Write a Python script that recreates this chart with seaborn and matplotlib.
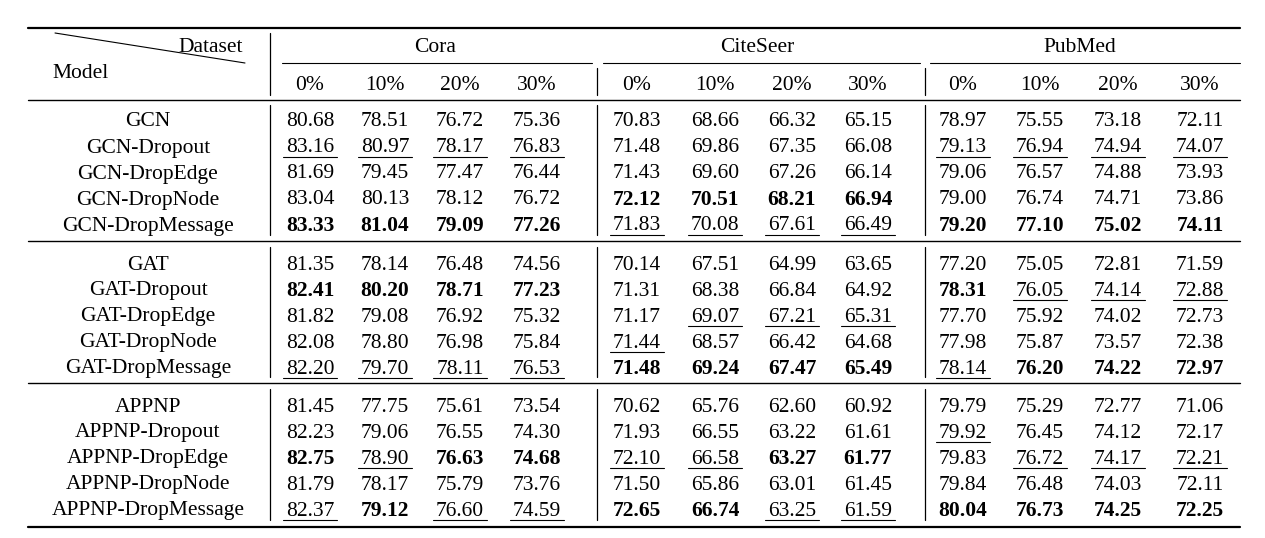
import matplotlib
matplotlib.use("Agg")
import matplotlib.pyplot as plt
import seaborn as sns

sns.set_theme(style="white", font="Liberation Serif", rc={"text.color": "black"})

datasets = ["Cora", "CiteSeer", "PubMed"]
rates = ["0%", "10%", "20%", "30%"]

models = ["GCN", "GCN-Dropout", "GCN-DropEdge", "GCN-DropNode", "GCN-DropMessage",
          "GAT", "GAT-Dropout", "GAT-DropEdge", "GAT-DropNode", "GAT-DropMessage",
          "APPNP", "APPNP-Dropout", "APPNP-DropEdge", "APPNP-DropNode", "APPNP-DropMessage"]

gcn_vals = [
    [80.68, 78.51, 76.72, 75.36, 70.83, 68.66, 66.32, 65.15, 78.97, 75.55, 73.18, 72.11],
    [83.16, 80.97, 78.17, 76.83, 71.48, 69.86, 67.35, 66.08, 79.13, 76.94, 74.94, 74.07],
    [81.69, 79.45, 77.47, 76.44, 71.43, 69.60, 67.26, 66.14, 79.06, 76.57, 74.88, 73.93],
    [83.04, 80.13, 78.12, 76.72, 72.12, 70.51, 68.21, 66.94, 79.00, 76.74, 74.71, 73.86],
    [83.33, 81.04, 79.09, 77.26, 71.83, 70.08, 67.61, 66.49, 79.20, 77.10, 75.02, 74.11],
]
gat_vals = [
    [81.35, 78.14, 76.48, 74.56, 70.14, 67.51, 64.99, 63.65, 77.20, 75.05, 72.81, 71.59],
    [82.41, 80.20, 78.71, 77.23, 71.31, 68.38, 66.84, 64.92, 78.31, 76.05, 74.14, 72.88],
    [81.82, 79.08, 76.92, 75.32, 71.17, 69.07, 67.21, 65.31, 77.70, 75.92, 74.02, 72.73],
    [82.08, 78.80, 76.98, 75.84, 71.44, 68.57, 66.42, 64.68, 77.98, 75.87, 73.57, 72.38],
    [82.20, 79.70, 78.11, 76.53, 71.48, 69.24, 67.47, 65.49, 78.14, 76.20, 74.22, 72.97],
]
appnp_vals = [
    [81.45, 77.75, 75.61, 73.54, 70.62, 65.76, 62.60, 60.92, 79.79, 75.29, 72.77, 71.06],
    [82.23, 79.06, 76.55, 74.30, 71.93, 66.55, 63.22, 61.61, 79.92, 76.45, 74.12, 72.17],
    [82.75, 78.90, 76.63, 74.68, 72.10, 66.58, 63.27, 61.77, 79.83, 76.72, 74.17, 72.21],
    [81.79, 78.17, 75.79, 73.76, 71.50, 65.86, 63.01, 61.45, 79.84, 76.48, 74.03, 72.11],
    [82.37, 79.12, 76.60, 74.59, 72.65, 66.74, 63.25, 61.59, 80.04, 76.73, 74.25, 72.25],
]
# b = bold, u = underline, . = plain
gcn_marks = ["............", "uuuu....uuuu", "............", "....bbbb....", "bbbbuuuubbbb"]
gat_marks = ["............", "bbbb....buuu", ".....uuu....", "....u.......", "uuuubbbbubbb"]
appnp_marks = ["............", "........u...", "bubbuubb.uuu", "............", "ubuubbuubbbb"]

values = gcn_vals + gat_vals + appnp_vals
marks = gcn_marks + gat_marks + appnp_marks

W, H = 1265, 538
fig = plt.figure(figsize=(W / 100, H / 100), dpi=100)
ax = fig.add_axes([0, 0, 1, 1])
ax.set_xlim(0, W)
ax.set_ylim(H, 0)
ax.axis("off")

fs = 15.5
dy = 4  # nudge text down to match the reference baseline
col_x = [310, 385, 460, 537, 637, 715, 792, 868, 963, 1040, 1118, 1200]
group_x = [435, 757, 1080]
row_y = [118, 144, 170, 196, 222, 261, 287, 313, 339, 365, 403, 429, 455, 481, 507]

# rules
ax.plot([28, 1240], [28, 28], color="black", lw=1.6)
ax.plot([28, 1240], [100, 100], color="black", lw=1.0)
ax.plot([28, 1240], [241, 241], color="black", lw=1.0)
ax.plot([28, 1240], [383, 383], color="black", lw=1.0)
ax.plot([28, 1240], [527, 527], color="black", lw=1.6)
for x0, x1 in [(282, 592), (603, 920), (930, 1240)]:
    ax.plot([x0, x1], [63, 63], color="black", lw=0.8)
ax.plot([270, 270], [33, 95], color="black", lw=0.9)
for sx in [597, 925]:
    ax.plot([sx, sx], [68, 95], color="black", lw=0.9)
for sx in [270, 597, 925]:
    for y0, y1 in [(105, 235), (247, 377), (389, 520)]:
        ax.plot([sx, sx], [y0, y1], color="black", lw=0.9)
ax.plot([55, 245], [33, 63], color="black", lw=0.8)

# header
ax.text(243, 44 + dy, "Dataset", ha="right", va="center", fontsize=fs)
ax.text(52, 70 + dy, "Model", ha="left", va="center", fontsize=fs)
for gx, name in zip(group_x, datasets):
    ax.text(gx, 44 + dy, name, ha="center", va="center", fontsize=fs)
for i, cx in enumerate(col_x):
    ax.text(cx, 81 + dy, rates[i % 4], ha="center", va="center", fontsize=fs)

# body
for r, (name, y) in enumerate(zip(models, row_y)):
    ax.text(148, y + dy, name, ha="center", va="center", fontsize=fs)
    for c, cx in enumerate(col_x):
        m = marks[r][c]
        ax.text(cx, y + dy, f"{values[r][c]:.2f}", ha="center", va="center", fontsize=fs,
                fontweight="bold" if m == "b" else "normal")
        if m == "u":
            ax.plot([cx - 27, cx + 27], [y + 13, y + 13], color="black", lw=0.8)

fig.savefig("out.png", dpi=100)
